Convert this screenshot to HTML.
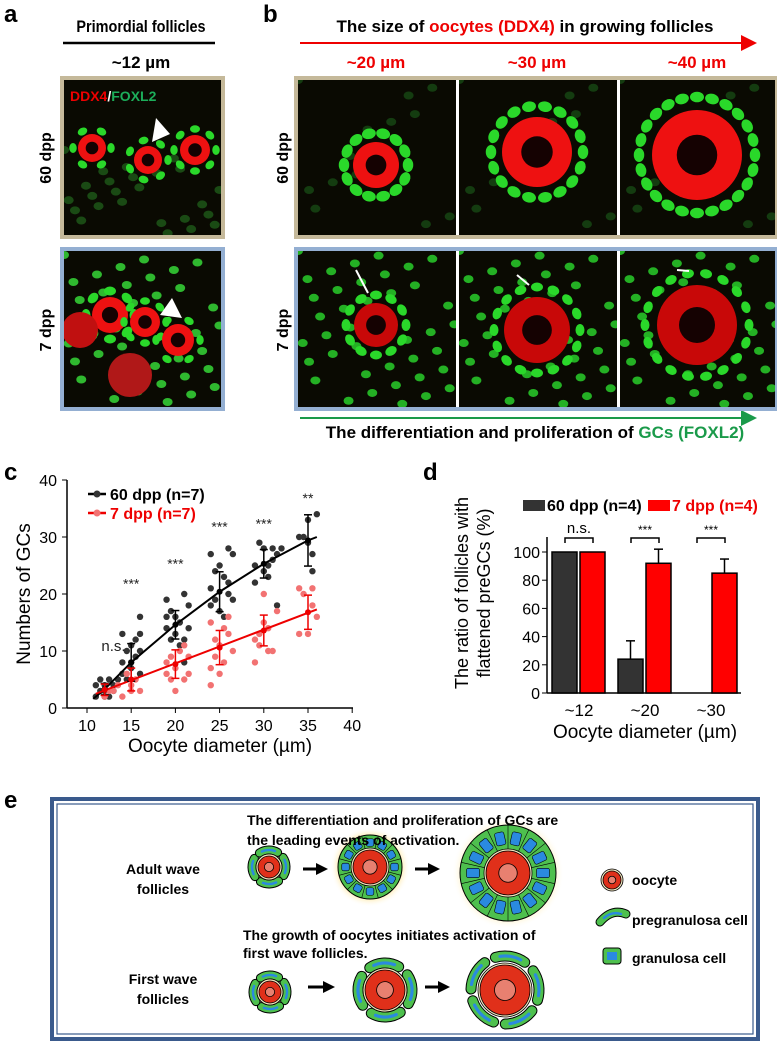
<!DOCTYPE html>
<html><head><meta charset="utf-8"><style>
body{margin:0;background:#fff;width:777px;height:1047px;overflow:hidden;font-family:"Liberation Sans",sans-serif}
svg{position:absolute;left:0;top:0}
text{font-family:"Liberation Sans",sans-serif}
</style></head><body>
<svg id="fig" width="777" height="1047" viewBox="0 0 777 1047">
<defs>
<marker id="ar" markerWidth="8" markerHeight="8" refX="7" refY="4" orient="auto"><path d="M0,0L8,4L0,8z" fill="#e00"/></marker>
<marker id="ag" markerWidth="8" markerHeight="8" refX="7" refY="4" orient="auto"><path d="M0,0L8,4L0,8z" fill="#1a9a4a"/></marker>
<marker id="ak" markerWidth="4" markerHeight="4" refX="3" refY="2" orient="auto"><path d="M0,0L4,2L0,4z" fill="#000"/></marker>
<radialGradient id="glow"><stop offset="0.8" stop-color="#fff0c0"/><stop offset="1" stop-color="#fff" stop-opacity="0"/></radialGradient>
</defs>
<!-- panel a -->
<text x="4" y="22" font-size="24" font-weight="bold">a</text>
<text x="141" y="32" font-size="17" font-weight="bold" text-anchor="middle" transform="translate(141 0) scale(0.85 1) translate(-141 0)">Primordial follicles</text>
<line x1="63" y1="43" x2="215" y2="43" stroke="#000" stroke-width="2.5"/>
<text x="141" y="68" font-size="17" font-weight="bold" text-anchor="middle">~12 µm</text>
<text transform="translate(51 158) rotate(-90)" font-size="16" font-weight="bold" text-anchor="middle">60 dpp</text>
<text transform="translate(51 330) rotate(-90)" font-size="16" font-weight="bold" text-anchor="middle">7 dpp</text>
<rect x="60" y="76" width="165" height="163" fill="#c5b99a"/>
<rect x="60" y="247" width="165" height="164" fill="#94afd2"/>
<g id="imgs"></g>
<text x="70" y="101" font-size="14" font-weight="bold"><tspan fill="#e00">DDX4</tspan><tspan fill="#fff">/</tspan><tspan fill="#1cae5a">FOXL2</tspan></text>
<!-- panel b -->
<text x="263" y="22" font-size="24" font-weight="bold">b</text>
<text x="525" y="32" font-size="17" font-weight="bold" text-anchor="middle">The size of <tspan fill="#e00">oocytes (DDX4)</tspan> in growing follicles</text>
<line x1="300" y1="43" x2="755" y2="43" stroke="#e00" stroke-width="2" marker-end="url(#ar)"/>
<text x="376" y="68" font-size="17" font-weight="bold" fill="#e00" text-anchor="middle">~20 µm</text>
<text x="537" y="68" font-size="17" font-weight="bold" fill="#e00" text-anchor="middle">~30 µm</text>
<text x="697" y="68" font-size="17" font-weight="bold" fill="#e00" text-anchor="middle">~40 µm</text>
<text transform="translate(288 158) rotate(-90)" font-size="16" font-weight="bold" text-anchor="middle">60 dpp</text>
<text transform="translate(288 330) rotate(-90)" font-size="16" font-weight="bold" text-anchor="middle">7 dpp</text>
<line x1="300" y1="418" x2="755" y2="418" stroke="#1a9a4a" stroke-width="2" marker-end="url(#ag)"/>
<text x="535" y="438" font-size="17" font-weight="bold" text-anchor="middle">The differentiation and proliferation of <tspan fill="#1a9a4a">GCs (FOXL2)</tspan></text>
<!-- panel c -->
<text x="4" y="480" font-size="24" font-weight="bold">c</text>
<g id="chartc"></g>
<!-- panel d -->
<text x="423" y="480" font-size="24" font-weight="bold">d</text>
<g id="chartd"></g>
<!-- panel e -->
<text x="4" y="808" font-size="24" font-weight="bold">e</text>
<rect x="52" y="799" width="706" height="240" fill="#fff" stroke="#3a5a8c" stroke-width="4"/>
<rect x="57" y="804" width="696" height="230" fill="none" stroke="#3a5a8c" stroke-width="1.2"/>
<g id="schem"></g>
<text x="247" y="825" font-size="14" font-weight="bold">The differentiation and proliferation of GCs are</text>
<text x="247" y="845" font-size="14" font-weight="bold">the leading events of activation.</text>
<text x="163" y="874" font-size="14" font-weight="bold" text-anchor="middle">Adult wave</text>
<text x="163" y="894" font-size="14" font-weight="bold" text-anchor="middle">follicles</text>
<text x="243" y="940" font-size="14" font-weight="bold">The growth of oocytes initiates activation of</text>
<text x="243" y="958" font-size="14" font-weight="bold">first wave follicles.</text>
<text x="163" y="984" font-size="14" font-weight="bold" text-anchor="middle">First wave</text>
<text x="163" y="1004" font-size="14" font-weight="bold" text-anchor="middle">follicles</text>
<text x="632" y="885" font-size="14" font-weight="bold">oocyte</text>
<text x="632" y="925" font-size="14" font-weight="bold">pregranulosa cell</text>
<text x="632" y="963" font-size="14" font-weight="bold">granulosa cell</text>
</svg>
<script>
// ---- chart c data ----
const xTicksC=[10,15,20,25,30,35,40];
const yTicksC=[0,10,20,30,40];
const diam=[12,15,20,25,30,35];
const mean60=[3.3,8,14.6,20.4,25.3,29.4];
const err60=[1,3.3,2.5,3.5,2.5,4.5];
const mean7=[3.2,5,7.7,10.6,13.6,16.8];
const err7=[1,2,2.5,3,2.7,3];
const fit60X=[10.7,12,15,20,25,30,35,36];
const fit60Y=[1.6,3.3,8,14.6,20.4,25.3,29.4,30];
const fit7X=[11,36];
const fit7Y=[2.5,17.3];
const pts60X=[11,11.5,12,12.5,13,11.5,12,13,12.5,11,13.5,12,14,14.5,15,15.5,16,14,15,16,14.5,15.5,16,14,15,16,19,19.5,20,20.5,21,21.5,19,20,21,19.5,20.5,21,19,21.5,24,24.5,25,26,26.5,24,25,24.5,26,25.5,24,26,25.5,26.5,29,29.5,30,31,31.5,29,30,30.5,31,32,30.5,31.5,34,34.5,35,36,35.5,35.5,35];
const pts60Y=[2,3,4,5,3,5,2,4,2,4,5,3,13,10,11,12,16,8,8,6,5,9,13,6,7,10,19,17,16,15,20,18,14,13,12,12,11,8,16,14,27,24,25,28,27,21,17,19,22,23,18,20,16,19,25,29,28,28,27,22,24,23,26,28,25,18,30,30,33,34,27,24,29];
const pts7X=[12,13,14,13.5,12.5,15,15.5,16,14.5,15,19,19.5,20,20.5,21,21.5,19,20,21,21.5,19.5,24,24.5,25,25.5,26,24,24.5,25,26,24,25.5,26.5,29,29.5,30,30.5,31,31.5,29,30,30.5,29.5,34,34.5,35,35.5,36,34,35.5];
const pts7Y=[2,3,2,4,3,3,5,3,6,4,6,5,3,10,11,9,8,7,5,6,9,15,12,11,14,16,7,9,6,13,4,8,10,12,11,20,14,10,17,8,15,10,13,21,20,13,21,16,13,18];
const sigX=[13,15,20,25,30,35];
const sigY=[10,21,24.5,31,31.5,36];
const sigLab=['n.s.','***','***','***','***','**'];
// ---- chart d data ----
const catsD=['~12','~20','~30'];
const bar60=[100,24,0];
const barErr60=[0,13,0];
const bar7=[100,92,85];
const barErr7=[0,10,10];
const yTicksD=[0,20,40,60,80,100];
const sigD=['n.s.','***','***'];

const NS='http://www.w3.org/2000/svg';
function mk(p,tag,a,txt){const e=document.createElementNS(NS,tag);for(const k in a)e.setAttribute(k,a[k]);if(txt!==undefined)e.textContent=txt;p.appendChild(e);return e;}

// chart c
const C=document.getElementById('chartc');
const xc=v=>87+(v-10)*8.84, yc=v=>708-v*5.7;
mk(C,'line',{x1:67,y1:480,x2:67,y2:708,stroke:'#000','stroke-width':1.5});
mk(C,'line',{x1:67,y1:708,x2:353,y2:708,stroke:'#000','stroke-width':1.5});
yTicksC.forEach(t=>{mk(C,'line',{x1:62,x2:67,y1:yc(t),y2:yc(t),stroke:'#000'});
 const e=mk(C,'text',{x:57,y:yc(t)+6,'font-size':16,'text-anchor':'end'},t);
 
 });
xTicksC.forEach(t=>{mk(C,'line',{x1:xc(t),x2:xc(t),y1:708,y2:713,stroke:'#000'});
 const e=mk(C,'text',{x:xc(t),y:731,'font-size':16,'text-anchor':'middle'},t);
 
 });
let e=mk(C,'text',{transform:'translate(30 594) rotate(-90)','font-size':19,'text-anchor':'middle'},'Numbers of GCs');


e=mk(C,'text',{x:220,y:752,'font-size':19,'text-anchor':'middle'},'Oocyte diameter (µm)');


pts60X.forEach((x,i)=>{const d=mk(C,'circle',{cx:xc(x),cy:yc(pts60Y[i]),r:3.2,fill:'#333'});
 
 });
pts7X.forEach((x,i)=>{const d=mk(C,'circle',{cx:xc(x),cy:yc(pts7Y[i]),r:3.2,fill:'#f27272'});
 
 });
e=mk(C,'polyline',{points:fit60X.map((x,i)=>xc(x)+','+yc(fit60Y[i])).join(' '),fill:'none',stroke:'#000','stroke-width':2});


e=mk(C,'polyline',{points:fit7X.map((x,i)=>xc(x)+','+yc(fit7Y[i])).join(' '),fill:'none',stroke:'#e00','stroke-width':2});


function eb(g,x,m,s,col){const X=xc(x);mk(g,'line',{x1:X,x2:X,y1:yc(m-s),y2:yc(m+s),stroke:col,'stroke-width':1.5});
 [m-s,m+s].forEach(v=>mk(g,'line',{x1:X-4,x2:X+4,y1:yc(v),y2:yc(v),stroke:col,'stroke-width':1.5}));
 mk(g,'circle',{cx:X,cy:yc(m),r:3,fill:col});}
diam.forEach((x,i)=>{eb(C,x,mean60[i],err60[i],'#000');eb(C,x,mean7[i],err7[i],'#e00');});
sigX.forEach((x,i)=>{const t=mk(C,'text',{x:xc(x),y:yc(sigY[i]),'font-size':sigLab[i]=='n.s.'?15:14,'text-anchor':'middle',fill:'#222'},sigLab[i]);
 
 });
mk(C,'line',{x1:88,x2:106,y1:494,y2:494,stroke:'#000','stroke-width':2.5});mk(C,'circle',{cx:97,cy:494,r:3.5,fill:'#333'});
mk(C,'line',{x1:88,x2:106,y1:513,y2:513,stroke:'#e00','stroke-width':2.5});mk(C,'circle',{cx:97,cy:513,r:3.5,fill:'#f27272'});
e=mk(C,'text',{x:110,y:500,'font-size':16,'font-weight':'bold'},'60 dpp (n=7)');


e=mk(C,'text',{x:110,y:519,'font-size':16,'font-weight':'bold',fill:'#e00'},'7 dpp (n=7)');



// chart d
const D=document.getElementById('chartd');
const yd=v=>693-v*1.41, cxd=i=>579+i*66;
mk(D,'line',{x1:547,y1:537,x2:547,y2:693,stroke:'#000','stroke-width':1.5});
mk(D,'line',{x1:547,y1:693,x2:741,y2:693,stroke:'#000','stroke-width':1.5});
yTicksD.forEach(t=>{mk(D,'line',{x1:542,x2:547,y1:yd(t),y2:yd(t),stroke:'#000'});
 const l=mk(D,'text',{x:540,y:yd(t)+6,'font-size':16,'text-anchor':'end'},t);
 
 });
catsD.forEach((c,i)=>{const l=mk(D,'text',{x:cxd(i),y:716,'font-size':17,'text-anchor':'middle'},c);
 
 
 const X=cxd(i);
 if(bar60[i]>0){const b=mk(D,'rect',{x:X-27,y:yd(bar60[i]),width:25,height:bar60[i]*1.41,fill:'#333',stroke:'#000','stroke-width':1.5});
  
  
  if(barErr60[i]){mk(D,'line',{x1:X-14.5,x2:X-14.5,y1:yd(bar60[i]),y2:yd(bar60[i]+barErr60[i]),stroke:'#000','stroke-width':1.5});mk(D,'line',{x1:X-19,x2:X-10,y1:yd(bar60[i]+barErr60[i]),y2:yd(bar60[i]+barErr60[i]),stroke:'#000','stroke-width':1.5});}}
 const r=mk(D,'rect',{x:X+1,y:yd(bar7[i]),width:25,height:bar7[i]*1.41,fill:'#f00',stroke:'#000','stroke-width':1.5});
 
 
 if(barErr7[i]){mk(D,'line',{x1:X+13.5,x2:X+13.5,y1:yd(bar7[i]),y2:yd(bar7[i]+barErr7[i]),stroke:'#000','stroke-width':1.5});mk(D,'line',{x1:X+9,x2:X+18,y1:yd(bar7[i]+barErr7[i]),y2:yd(bar7[i]+barErr7[i]),stroke:'#000','stroke-width':1.5});}
 mk(D,'path',{d:`M${X-14},543 V538 H${X+14} V543`,fill:'none',stroke:'#000','stroke-width':1.5});
 const s=mk(D,'text',{x:X,y:sigD[i]=='n.s.'?533:534,'font-size':sigD[i]=='n.s.'?15:12,'text-anchor':'middle'},sigD[i]);
 
 });
e=mk(D,'text',{transform:'translate(468 593) rotate(-90)','font-size':18,'text-anchor':'middle'},'The ratio of follicles with');


mk(D,'text',{transform:'translate(490 593) rotate(-90)','font-size':18,'text-anchor':'middle'},'flattened preGCs (%)');
e=mk(D,'text',{x:645,y:738,'font-size':19,'text-anchor':'middle'},'Oocyte diameter (µm)');


mk(D,'rect',{x:523,y:500,width:22,height:11,fill:'#333'});
e=mk(D,'text',{x:547,y:511,'font-size':16,'font-weight':'bold'},'60 dpp (n=4)');


mk(D,'rect',{x:648,y:500,width:22,height:11,fill:'#f00'});
e=mk(D,'text',{x:672,y:511,'font-size':16,'font-weight':'bold',fill:'#e00'},'7 dpp (n=4)');



// microscopy images (illustrative)
const I=document.getElementById('imgs');
let clipId=0;
function panel(x,y,w,h,name){const g=mk(I,'g',{});
 
 
 const cp=mk(g,'clipPath',{id:'cp'+(++clipId)});mk(cp,'rect',{x,y,width:w,height:h});
 mk(g,'rect',{x,y,width:w,height:h,fill:'#0a0a02'});
 return mk(g,'g',{'clip-path':`url(#cp${clipId})`});}
function foll(g,cx,cy,ro,n,rr,cell,dotted){
 for(let k=0;k<n;k++){const a=k/n*6.283;mk(g,'ellipse',{cx:cx+Math.cos(a)*rr,cy:cy+Math.sin(a)*rr,rx:cell,ry:cell*0.75,transform:`rotate(${a*57.3+90} ${cx+Math.cos(a)*rr} ${cy+Math.sin(a)*rr})`,fill:'#2ad82a'});}
 mk(g,'circle',{cx,cy,r:ro,fill:dotted?'#c80808':'#ee1111'});
 mk(g,'circle',{cx,cy,r:ro*0.45,fill:'#150202'});}
function scatterCells(g,x,y,w,h,n,col){for(let k=0;k<n;k++){const px=x+((k*37)%100)/100*w,py=y+((k*61)%100)/100*h;mk(g,'ellipse',{cx:px,cy:py,rx:5,ry:4,fill:col});}}
let g=panel(64,80,157,155,'image-a-60dpp');
scatterCells(g,64,150,157,85,28,'#1a4a14');
foll(g,92,148,14,6,19,5);foll(g,148,160,14,7,20,5);foll(g,195,150,15,8,21,5);
mk(g,'path',{d:'M156,118 L170,134 L152,142z',fill:'#fff'});
g=panel(64,251,157,156,'image-a-7dpp');
scatterCells(g,64,255,157,150,40,'#2fb82f');
foll(g,110,315,18,8,24,6);foll(g,145,322,15,8,21,5);foll(g,178,340,16,6,22,5);
mk(g,'circle',{cx:80,cy:330,r:18,fill:'#c01010'});mk(g,'circle',{cx:130,cy:375,r:22,fill:'#b01818'});
mk(g,'path',{d:'M172,298 L182,318 L160,315z',fill:'#fff'});
const bx=[298,459,620],bw=158;
const t60=[[376,165,23,14,32,7],[537,152,35,18,46,7],[697,155,45,24,58,7]];
const t7=[[376,325,22,12,30,6],[537,330,33,16,43,6],[697,325,40,18,52,6]];
[0,1,2].forEach(i=>{
 let g=panel(bx[i],80,bw,155,'image-b-60dpp-'+(i+1));
 scatterCells(g,bx[i],80,bw,155,14,'#143c10');
 const t=t60[i];foll(g,t[0],t[1],t[2],t[3],t[4],t[5]);
 g=panel(bx[i],251,bw,156,'image-b-7dpp-'+(i+1));
 scatterCells(g,bx[i],251,bw,156,40,'#24b024');
 const u=t7[i];foll(g,u[0],u[1],u[2],u[3],u[4],u[5],true);
 mk(g,'line',{x1:u[0]-20,y1:u[1]-55,x2:u[0]-8,y2:u[1]-u[4]-2,stroke:'#fff','stroke-width':2});
});
mk(document.getElementById('fig'),'rect',{x:296,y:78,width:481,height:159,fill:'none',stroke:'#c5b99a','stroke-width':4});
mk(document.getElementById('fig'),'rect',{x:296,y:249,width:481,height:160,fill:'none',stroke:'#94afd2','stroke-width':4});

// schematic
const S=document.getElementById('schem');
function oocyte(cx,cy,r){mk(S,'circle',{cx,cy,r:r+2,fill:'#f3e6c0',stroke:'#000','stroke-width':0.8});
 mk(S,'circle',{cx,cy,r,fill:'#e0301a',stroke:'#000','stroke-width':0.8});
 mk(S,'circle',{cx,cy,r:r*0.42,fill:'#e88070',stroke:'#000','stroke-width':0.8});}
function arcPath(cx,cy,r,a0,a1){const x0=cx+r*Math.cos(a0),y0=cy+r*Math.sin(a0),x1=cx+r*Math.cos(a1),y1=cy+r*Math.sin(a1);return `M${x0},${y0} A${r},${r} 0 0 1 ${x1},${y1}`;}
function pre(cx,cy,ro,n,rr,w){
 for(let k=0;k<n;k++){const a=k/n*6.283-0.6,span=6.283/n*0.72;const d=arcPath(cx,cy,rr,a,a+span);
  mk(S,'path',{d,fill:'none',stroke:'#000','stroke-width':w+2,'stroke-linecap':'round'});
  mk(S,'path',{d,fill:'none',stroke:'#4ec04e','stroke-width':w,'stroke-linecap':'round'});
  mk(S,'path',{d:arcPath(cx,cy,rr,a+span*0.15,a+span*0.85),fill:'none',stroke:'#2a8adf','stroke-width':w*0.35,'stroke-linecap':'round'});}
 oocyte(cx,cy,ro);}
function gc(cx,cy,ro,n,R){
 mk(S,'circle',{cx,cy,r:R+8,fill:'url(#glow)'});
 mk(S,'circle',{cx,cy,r:R,fill:'#4ec04e',stroke:'#000','stroke-width':1});
 const mid=(R+ro)/2,th=(R-ro)*0.5,len=2*Math.PI*mid/n*0.6;
 for(let k=0;k<n;k++){const a=k/n*360;mk(S,'rect',{x:cx+mid-th/2,y:cy-len/2,width:th,height:len,rx:2,fill:'#2a8adf',stroke:'#000','stroke-width':0.6,transform:`rotate(${a} ${cx} ${cy})`});
  mk(S,'line',{x1:cx+ro+2,y1:cy,x2:cx+R,y2:cy,stroke:'#000','stroke-width':0.6,transform:`rotate(${a+180/n} ${cx} ${cy})`});}
 oocyte(cx,cy,ro);}
pre(269,867,11,4,17,7);
gc(370,867,17,12,32);
gc(508,873,22,14,48);
pre(270,992,11,4,17,7);
pre(385,990,20,4,27,9);
pre(505,990,25,5,34,9);
[[303,869,325],[415,869,437],[308,987,332],[425,987,447]].forEach(a=>mk(S,'line',{x1:a[0],y1:a[1],x2:a[2],y2:a[1],stroke:'#000','stroke-width':3,'marker-end':'url(#ak)'}));
oocyte(612,880,9);
mk(S,'path',{d:'M600,922 Q612,908 626,914',fill:'none',stroke:'#000','stroke-width':9,'stroke-linecap':'round'});
mk(S,'path',{d:'M600,922 Q612,908 626,914',fill:'none',stroke:'#4ec04e','stroke-width':7,'stroke-linecap':'round'});
mk(S,'path',{d:'M604,918 Q612,911 621,914',fill:'none',stroke:'#2a8adf','stroke-width':2.5,'stroke-linecap':'round'});
mk(S,'rect',{x:603,y:948,width:18,height:16,rx:3,fill:'#4ec04e',stroke:'#000'});mk(S,'rect',{x:607,y:952,width:10,height:8,fill:'#2a8adf'});
</script>
</body></html>
